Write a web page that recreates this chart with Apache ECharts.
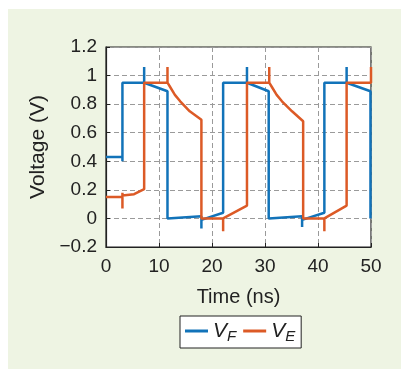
<!DOCTYPE html>
<html>
<head>
<meta charset="utf-8">
<script src="https://cdn.jsdelivr.net/npm/echarts@6/dist/echarts.min.js"></script>
<style>
  html, body { margin: 0; padding: 0; background: #fff; }
  #panel { position: absolute; left: 8px; top: 9px; width: 393px; height: 360px; background: #eef4e3; }
  #chart { position: absolute; left: 0; top: 0; width: 401px; height: 370px; }
</style>
</head>
<body>
<div id="panel"></div>
<div id="chart"></div>
<script>
// time (ns), voltage (V)
const vF = [
  [0, 0.43], [3.1, 0.43], [3.1, 0.40], [3.1, 0.95], [7.2, 0.95], [7.2, 1.06], [7.2, 0.95],
  [11.6, 0.89], [11.6, 0.0], [18.0, 0.015], [18.0, -0.07], [18.0, -0.01], [22.1, 0.04],
  [22.1, 0.95], [26.6, 0.95], [26.6, 1.06], [26.6, 0.95], [30.7, 0.89], [30.7, 0.0],
  [37.0, 0.015], [37.0, -0.06], [37.0, -0.01], [41.2, 0.04], [41.2, 0.95], [45.4, 0.95],
  [45.4, 1.06], [45.4, 0.95], [49.9, 0.89], [49.9, 0.0]
];
const vE = [
  [0, 0.15], [3.1, 0.15], [3.1, 0.18], [3.1, 0.07], [3.1, 0.16], [5.3, 0.17], [7.2, 0.205],
  [7.2, 0.95], [11.6, 0.95], [11.6, 1.06], [11.6, 0.95], [12.1, 0.92], [13.0, 0.865],
  [14.0, 0.82], [15.8, 0.75], [18.0, 0.69], [18.0, 0.0], [22.1, 0.0], [22.1, -0.09], [22.1, 0.0],
  [26.6, 0.09], [26.6, 0.95], [30.8, 0.95], [30.8, 1.06], [30.8, 0.95], [31.3, 0.92],
  [32.2, 0.865], [33.2, 0.82], [35.1, 0.75], [37.2, 0.68], [37.2, 0.0], [41.2, 0.0],
  [41.2, -0.09], [41.2, 0.0], [45.4, 0.09], [45.4, 0.95], [50, 0.95], [50, 1.06]
];
const seriesNames = ['VF', 'VE'];
const colors = ['#1273b9', '#dc5a26'];

const chart = echarts.init(document.getElementById('chart'));
const font = 'Liberation Sans, Arial, sans-serif';

const option = {
  animation: false,
  grid: {
    left: 106, right: 30, top: 47, bottom: 123,
    show: true,
    backgroundColor: '#fff',
    borderColor: '#222',
    borderWidth: 1.2
  },
  legend: {
    data: seriesNames,
    top: 316,
    left: 180,
    backgroundColor: '#fff',
    borderColor: '#222',
    borderWidth: 1,
    borderRadius: 0,
    padding: [4, 6, 4, 5],
    itemGap: 7,
    itemWidth: 23,
    itemHeight: 3,
    icon: 'rect',
    formatter: function (name) {
      return '{v|V}{s|' + name.slice(1) + '}';
    },
    textStyle: {
      color: '#222',
      fontFamily: font,
      rich: {
        v: { fontSize: 21, fontStyle: 'italic', lineHeight: 26, color: '#222' },
        s: { fontSize: 15, fontStyle: 'italic', lineHeight: 26, verticalAlign: 'bottom', padding: [9, 0, 0, 0], color: '#222' }
      }
    }
  },
  xAxis: {
    type: 'value',
    min: 0, max: 50, interval: 10,
    name: 'Time (ns)',
    nameLocation: 'middle',
    nameGap: 40,
    nameTextStyle: { fontSize: 20, color: '#222', fontFamily: font },
    axisLine: { show: true, onZero: false, lineStyle: { color: '#222', width: 1.2 } },
    axisTick: { show: true, inside: true, length: 4, lineStyle: { color: '#222' } },
    axisLabel: { fontSize: 19, color: '#222', margin: 10, fontFamily: font },
    splitLine: { show: true, lineStyle: { color: '#9a9a9a', type: [5, 3], width: 1 } }
  },
  yAxis: {
    type: 'value',
    min: -0.2, max: 1.2, interval: 0.2,
    name: 'Voltage (V)',
    nameLocation: 'middle',
    nameGap: 53,
    nameTextStyle: { fontSize: 21, color: '#222', fontFamily: font },
    axisLine: { show: true, onZero: false, lineStyle: { color: '#222', width: 1.2 } },
    axisTick: { show: true, inside: true, length: 4, lineStyle: { color: '#222' } },
    axisLabel: {
      fontSize: 19, color: '#222', margin: 9, fontFamily: font,
      formatter: function (v) {
        const r = Math.round(v * 10) / 10;
        return r < 0 ? '\u2212' + Math.abs(r) : String(r);
      }
    },
    splitLine: { show: true, lineStyle: { color: '#9a9a9a', type: [5, 3], width: 1 } }
  },
  series: [
    {
      name: seriesNames[0],
      type: 'line',
      data: vF,
      symbol: 'none',
      color: colors[0],
      lineStyle: { width: 2.5, color: colors[0] }
    },
    {
      name: seriesNames[1],
      type: 'line',
      data: vE,
      symbol: 'none',
      color: colors[1],
      lineStyle: { width: 2.5, color: colors[1] }
    }
  ]
};

chart.setOption(option);
</script>
</body>
</html>
